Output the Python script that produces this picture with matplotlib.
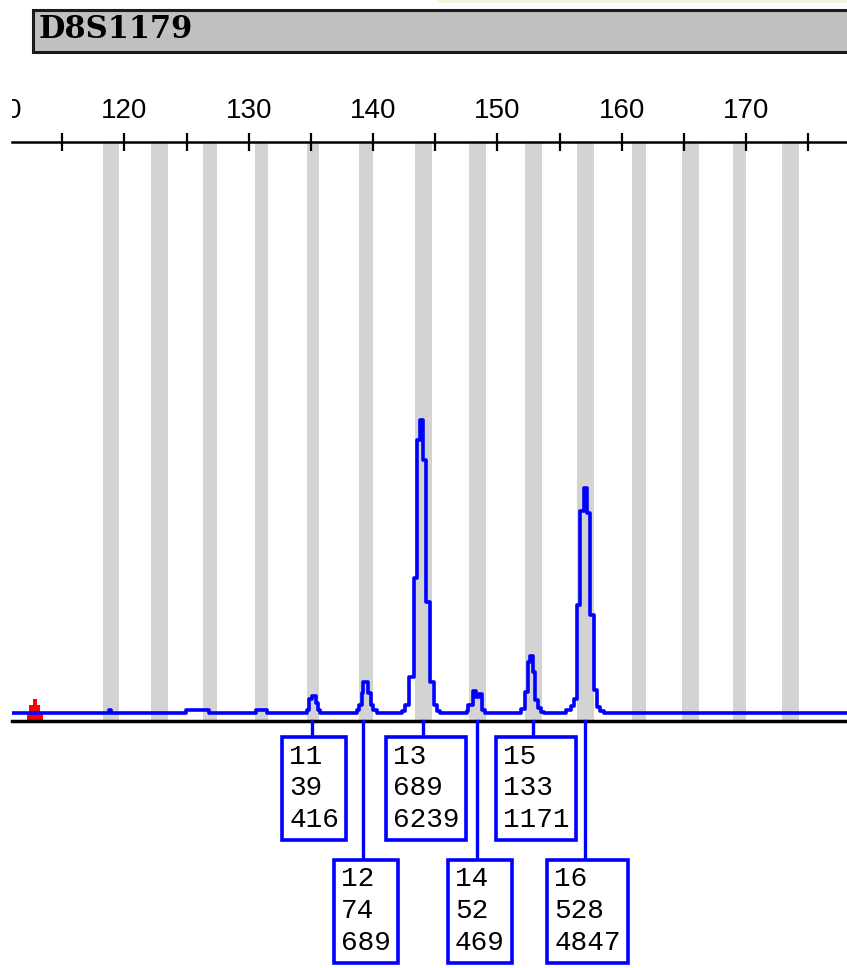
import matplotlib.pyplot as plt
from matplotlib.patches import Rectangle
from matplotlib.transforms import Bbox, TransformedBbox

# ---- data ----
marker_name = "D8S1179"

# allele bins (bp)
bin_centers = [118.93, 122.83, 126.90, 131.04, 135.18, 139.43, 144.05,
               148.40, 152.90, 157.07, 161.38, 165.52, 169.46, 173.56]
bin_widths = [1.29, 1.37, 1.13, 1.05, 0.96, 1.13, 1.37,
              1.37, 1.37, 1.37, 1.13, 1.37, 1.05, 1.37]

# electropherogram trace (size in bp, height in RFU), step samples
trace_bp = [110.9, 118.79, 118.95, 124.94, 126.81, 130.59, 131.45,
            134.66, 134.85, 135.11, 135.39, 135.59, 135.73,
            138.68, 138.86, 139.07, 139.21, 139.56, 139.81, 140.02, 140.29,
            142.32, 142.56, 142.85, 143.29, 143.53, 143.81, 144.05, 144.29,
            144.57, 144.86, 145.14, 145.34,
            147.51, 147.67, 148.03, 148.31, 148.55, 148.75, 148.99,
            151.93, 152.21, 152.45, 152.65, 152.85, 153.05, 153.28, 153.52, 153.78,
            155.51, 155.91, 156.15, 156.39, 156.67, 156.92, 157.17, 157.46,
            157.76, 158.00, 158.24, 158.56,
            178.5]
trace_rfu = [0, 7, 0, 6, 0, 6, 0,
             7, 33, 39, 23, 7, 0,
             7, 19, 47, 74, 47, 19, 7, 0,
             5, 19, 85, 317, 641, 689, 595, 262,
             74, 19, 5, 0,
             5, 19, 52, 38, 44, 8, 0,
             10, 49, 120, 133, 97, 31, 12, 3, 0,
             7, 16, 33, 254, 475, 528, 470, 230,
             54, 14, 5, 0,
             0]

# allele calls: allele, height, area, size
call_alleles = ["11", "12", "13", "14", "15", "16"]
call_heights = [39, 74, 689, 52, 133, 528]
call_areas = [416, 689, 6239, 469, 1171, 4847]
call_sizes = [135.06, 139.21, 144.04, 148.38, 152.88, 157.04]

ref_marker_bp = 112.8
ref_marker_tops = [-2.3, 19, 33]

tick_major = [110, 120, 130, 140, 150, 160, 170]
tick_minor = [115, 125, 135, 145, 155, 165, 175]

W, H = 847, 968
fig = plt.figure(figsize=(W / 100, H / 100), dpi=100)

# faint strip on top right and title bar
fig.add_artist(Rectangle((437 / W, 1 - 3 / H), 1, 3 / H, transform=fig.transFigure,
                         fc="#f6f4df", ec="none"))
fig.add_artist(Rectangle((33 / W, 1 - 52 / H), (870 - 33) / W, 42 / H,
                         transform=fig.transFigure, fc="#c0c0c0", ec="#1a1a1a", lw=2.2))
fig.text(39 / W, 1 - 38 / H, marker_name, fontsize=22, fontweight="bold",
         family=["DejaVu Serif"], va="baseline", ha="left")

ax = fig.add_axes([12 / W, 1 - 720.5 / H, 835 / W, 579 / H])

for c, w in zip(bin_centers, bin_widths):
    ax.axvspan(c - w / 2, c + w / 2, color="#d3d3d3", lw=0, zorder=1)

# red reference marker
for top, w in zip(ref_marker_tops, [1.29, 0.86, 0.35]):
    ax.bar(ref_marker_bp, top + 17.6, width=w, bottom=-17.6, color="#ff0000",
           lw=0, zorder=1.5)

ax.plot(trace_bp, trace_rfu, drawstyle="steps-post", color="#0000ff", lw=2.6, zorder=2)

# axes styling
for s in ["left", "right"]:
    ax.spines[s].set_visible(False)
ax.spines["top"].set_linewidth(1.8)
ax.spines["bottom"].set_linewidth(2.5)
ax.set_yticks([])
ax.xaxis.set_ticks_position("top")
ax.set_xticks(tick_major)
ax.set_xticks(tick_minor, minor=True)
ax.tick_params(axis="x", which="both", direction="inout", length=13, width=1.6,
               labeltop=False, labelbottom=False, top=True, bottom=False)
# limits after ticks (set_xticks would widen the view)
ax.set_xlim(110.97, 178.1)
ax.set_ylim(-17.6, 1343)

clip = TransformedBbox(Bbox([[12 / W, 0], [1, 1]]), fig.transFigure)
for t in tick_major:
    txt = ax.text(t, 1 + (141.5 - 118) / 579, str(t), transform=ax.get_xaxis_transform(),
                  ha="center", va="baseline", fontsize=20, family=["Liberation Sans"])
    txt.set_clip_on(True)
    txt.set_clip_box(clip)

# allele call boxes
for i, (a, h, ar, sz) in enumerate(zip(call_alleles, call_heights, call_areas, call_sizes)):
    if i % 2 == 0:
        box_top, txt_top = (720.5 - 735) / 579, (720.5 - 743.5) / 579
    else:
        box_top, txt_top = (720.5 - 858) / 579, (720.5 - 866.5) / 579
    ax.plot([sz, sz], [0, box_top], transform=ax.get_xaxis_transform(),
            color="#0000ff", lw=2.4, clip_on=False, zorder=3)
    ax.text(sz + 0.2, txt_top, f"{a}\n{h}\n{ar}", transform=ax.get_xaxis_transform(),
            ha="center", va="top", multialignment="left", fontsize=20,
            family=["Liberation Mono"], linespacing=1.28, clip_on=False, zorder=4,
            bbox=dict(boxstyle="square,pad=0.25", fc="white", ec="#0000ff", lw=2.6))

fig.savefig("out.png", dpi=100)
